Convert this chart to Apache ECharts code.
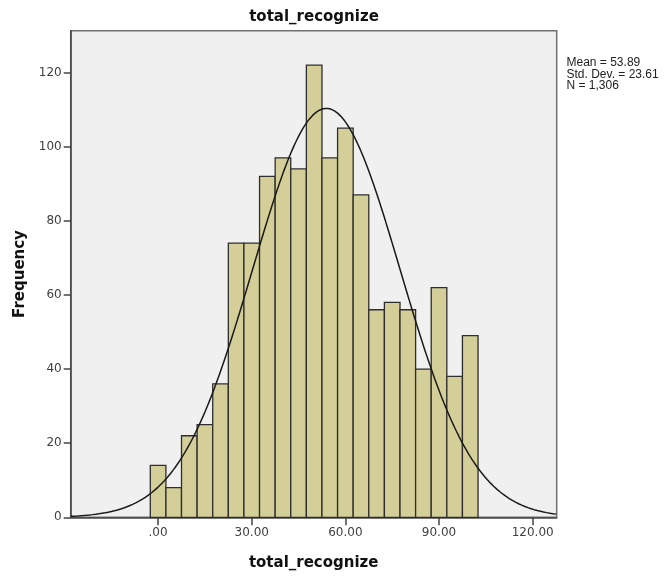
<!DOCTYPE html>
<html>
<head>
<meta charset="utf-8">
<script src="https://cdn.jsdelivr.net/npm/echarts@6/dist/echarts.min.js"></script>
<style>
  html, body { margin: 0; padding: 0; background: #ffffff; }
  #chart { width: 664px; height: 579px; }
</style>
</head>
<body>
<div id="chart"></div>
<script>
// Histogram bins (centre of each bin) and their counts
const binCenters = [0, 5, 10, 15, 20, 25, 30, 35, 40, 45, 50, 55, 60, 65, 70, 75, 80, 85, 90, 95, 100];
const frequencies = [14, 8, 22, 25, 36, 74, 74, 92, 97, 94, 122, 97, 105, 87, 56, 58, 56, 40, 62, 38, 49];
const binWidth = 5;

// Summary statistics shown beside the plot
const mean = 53.89;
const stdDev = 23.61;
const count = 1306;

// Axis ticks and their labels
const xTicks = [0, 30, 60, 90, 120];
const xTickLabels = ['.00', '30.00', '60.00', '90.00', '120.00'];
const yTicks = [0, 20, 40, 60, 80, 100, 120];

const xMin = -28, xMax = 127.7;
const yMin = 0, yMax = 131.3;

// Fitted normal curve, scaled to counts per bin
const normalCurve = [];
const peak = count * binWidth / (stdDev * Math.sqrt(2 * Math.PI));
for (let x = xMin; x <= xMax + 1e-9; x += 0.5) {
  const z = (x - mean) / stdDev;
  normalCurve.push([x, peak * Math.exp(-0.5 * z * z)]);
}

const statLines = [
  'Mean = ' + mean.toFixed(2),
  'Std. Dev. = ' + stdDev.toFixed(2),
  'N = ' + count.toLocaleString('en-US')
];

const tickFont = '"DejaVu Sans", sans-serif';
const chart = echarts.init(document.getElementById('chart'), null, { renderer: 'canvas' });

chart.setOption({
  animation: false,
  backgroundColor: '#ffffff',
  grid: {
    left: 70.7, right: 107.3, top: 30.7, bottom: 61.7,
    show: true,
    backgroundColor: '#f0f0f0',
    borderColor: '#707070',
    borderWidth: 1.5,
    containLabel: false,
    outerBoundsMode: 'none'
  },
  xAxis: {
    type: 'value',
    min: xMin, max: xMax,
    name: 'total_recognize',
    nameLocation: 'middle',
    nameGap: 38,
    nameTextStyle: { fontFamily: tickFont, fontWeight: 'bold', fontSize: 15, color: '#111111' },
    axisLine: { show: true, onZero: false, lineStyle: { color: '#444444', width: 1.5 } },
    axisTick: { show: true, customValues: xTicks, length: 8, lineStyle: { color: '#444444', width: 1.5 } },
    axisLabel: {
      customValues: xTicks,
      margin: 10,
      fontFamily: tickFont, fontSize: 12, color: '#404040',
      formatter: (v) => xTickLabels[xTicks.indexOf(v)]
    },
    splitLine: { show: false }
  },
  yAxis: {
    type: 'value',
    min: yMin, max: yMax,
    name: 'Frequency',
    nameLocation: 'middle',
    nameGap: 42,
    nameTextStyle: { fontFamily: tickFont, fontWeight: 'bold', fontSize: 15, color: '#111111' },
    axisLine: { show: true, onZero: false, lineStyle: { color: '#444444', width: 1.5 } },
    axisTick: { show: true, customValues: yTicks, length: 7, lineStyle: { color: '#444444', width: 1.5 } },
    axisLabel: {
      customValues: yTicks,
      margin: 9,
      fontFamily: tickFont, fontSize: 12, color: '#404040'
    },
    splitLine: { show: false }
  },
  graphic: [
    {
      type: 'text',
      style: {
        x: 314, y: 17,
        text: 'total_recognize',
        align: 'center', verticalAlign: 'middle',
        font: 'bold 15px "DejaVu Sans", sans-serif',
        fill: '#111111'
      }
    },
    {
      type: 'text',
      style: {
        x: 566.5, y: 57,
        text: statLines.join('\n'),
        align: 'left', verticalAlign: 'top',
        font: '12px "Liberation Sans", Arial, sans-serif',
        lineHeight: 11.5,
        fill: '#222222'
      }
    }
  ],
  series: [
    {
      type: 'custom',
      data: binCenters.map((c, i) => [c, frequencies[i]]),
      encode: { x: 0, y: 1 },
      renderItem: (params, api) => {
        const c = api.value(0);
        const f = api.value(1);
        const topLeft = api.coord([c - binWidth / 2, f]);
        const bottomRight = api.coord([c + binWidth / 2, 0]);
        return {
          type: 'rect',
          shape: {
            x: topLeft[0], y: topLeft[1],
            width: bottomRight[0] - topLeft[0],
            height: bottomRight[1] - topLeft[1]
          },
          style: { fill: '#d4cf98', stroke: '#2e2e2e', lineWidth: 1.3 }
        };
      },
      z: 2
    },
    {
      type: 'line',
      data: normalCurve,
      showSymbol: false,
      smooth: false,
      clip: true,
      lineStyle: { color: '#1a1a1a', width: 1.5 },
      z: 3
    }
  ]
});
</script>
</body>
</html>
